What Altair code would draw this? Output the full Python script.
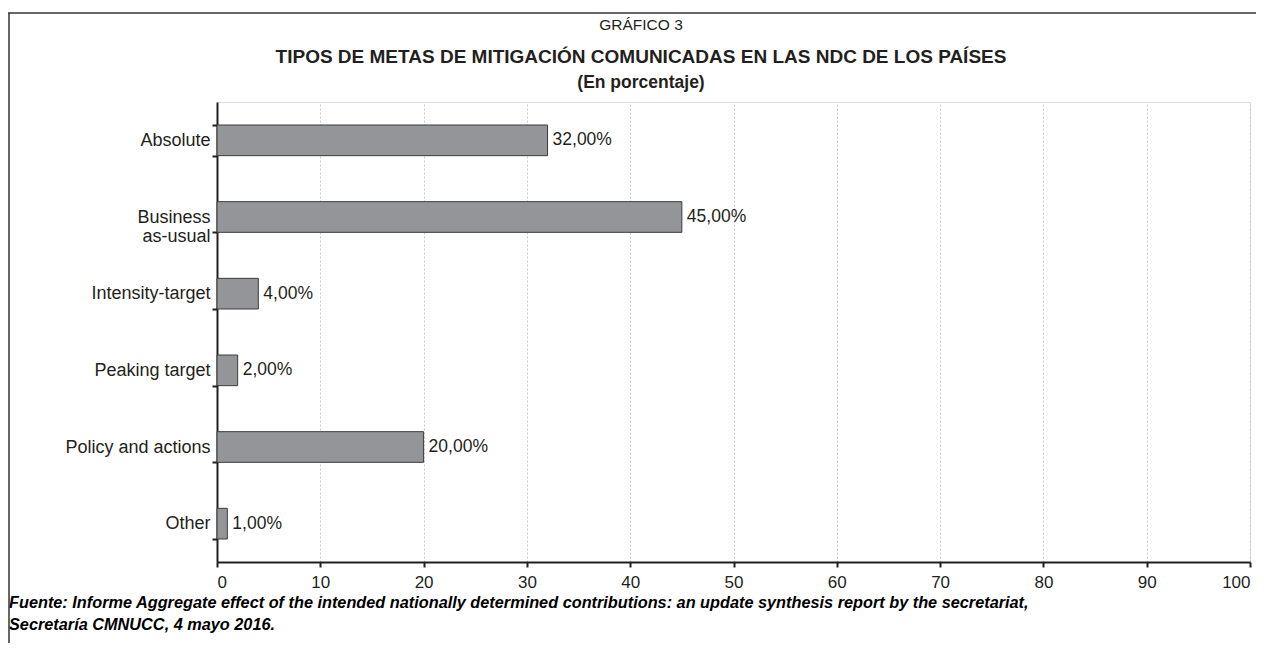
import altair as alt
import pandas as pd

categories = ["Absolute", "Business\nas-usual", "Intensity-target", "Peaking target", "Policy and actions", "Other"]
values = [32.0, 45.0, 4.0, 2.0, 20.0, 1.0]
x_ticks = [0, 10, 20, 30, 40, 50, 60, 70, 80, 90, 100]
title_top = "GRÁFICO 3"
title_main = "TIPOS DE METAS DE MITIGACIÓN COMUNICADAS EN LAS NDC DE LOS PAÍSES"
title_sub = "(En porcentaje)"
footnote = [
    "Fuente: Informe Aggregate effect of the intended nationally determined contributions: an update synthesis report by the secretariat,",
    "Secretaría CMNUCC, 4 mayo 2016.",
]

labels = [f"{v:.2f}".replace(".", ",") + "%" for v in values]
df = pd.DataFrame({"cat": categories, "val": values, "lbl": labels})

FONT = "Liberation Sans"
INK = "#231f20"
W, H = 1033, 460

y_enc = alt.Y(
    "cat:N",
    sort=categories,
    scale=alt.Scale(paddingInner=0.6, paddingOuter=0.3),
    axis=alt.Axis(
        title=None,
        tickBand="extent",
        tickSize=5,
        tickWidth=2,
        tickColor=INK,
        domainColor=INK,
        domainWidth=2,
        labelPadding=2,
        labelFont=FONT,
        labelFontSize=18,
        labelColor=INK,
        labelLineHeight=19,
        labelExpr="split(datum.label, '\\n')",
        grid=False,
    ),
)
x_enc = alt.X(
    "val:Q",
    scale=alt.Scale(domain=[0, 100], nice=False),
    axis=alt.Axis(
        title=None,
        values=x_ticks,
        tickSize=5,
        tickWidth=2,
        tickColor=INK,
        domainColor=INK,
        domainWidth=2,
        labelPadding=7,
        labelFont=FONT,
        labelFontSize=17,
        labelColor=INK,
        grid=True,
        gridColor="#c8c8c8",
        gridDash=[2, 2],
        gridWidth=1,
    ),
)

base = alt.Chart(df)
bars = base.mark_bar(fill="#939598", stroke="#3c3c3c", strokeWidth=1).encode(x=x_enc, y=y_enc)
vals = base.mark_text(align="left", baseline="middle", dx=5, font=FONT, fontSize=17.5, color=INK).encode(
    x="val:Q", y=alt.Y("cat:N", sort=categories), text="lbl:N"
)

one = alt.Data(values=[{"a": 1}])
cx = 424
t1 = alt.Chart(one).mark_text(font=FONT, fontSize=15.5, color=INK, align="center", baseline="alphabetic").encode(
    x=alt.value(cx), y=alt.value(-72), text=alt.value(title_top)
)
t2 = alt.Chart(one).mark_text(font=FONT, fontSize=19, fontWeight="bold", color=INK, align="center", baseline="alphabetic").encode(
    x=alt.value(cx), y=alt.value(-39), text=alt.value(title_main)
)
t3 = alt.Chart(one).mark_text(font=FONT, fontSize=17.5, fontWeight="bold", color=INK, align="center", baseline="alphabetic").encode(
    x=alt.value(cx), y=alt.value(-14), text=alt.value(title_sub)
)
fn = alt.Chart(one).mark_text(font=FONT, fontSize=16.3, fontWeight="bold", fontStyle="italic", color="#000000",
                              align="left", baseline="alphabetic", lineHeight=22).encode(
    x=alt.value(-208), y=alt.value(506), text=alt.value(footnote)
)
top_line = alt.Chart(one).mark_rule(color="#333333", strokeWidth=1.5).encode(
    x=alt.value(-209), x2=alt.value(1045), y=alt.value(-89)
)
left_line = alt.Chart(one).mark_rule(color="#333333", strokeWidth=1.5).encode(
    x=alt.value(-208), y=alt.value(-89), y2=alt.value(560)
)

chart = alt.layer(bars, vals, t1, t2, t3, fn, top_line, left_line).properties(
    width=W,
    height=H,
    autosize=alt.AutoSizeParams(type="none"),
    padding={"left": 209, "top": 94, "right": 6, "bottom": 81},
).configure_view(stroke=INK, strokeWidth=2).configure(background="white")

chart.save("out.html", embed_options={"renderer": "svg", "actions": False})
